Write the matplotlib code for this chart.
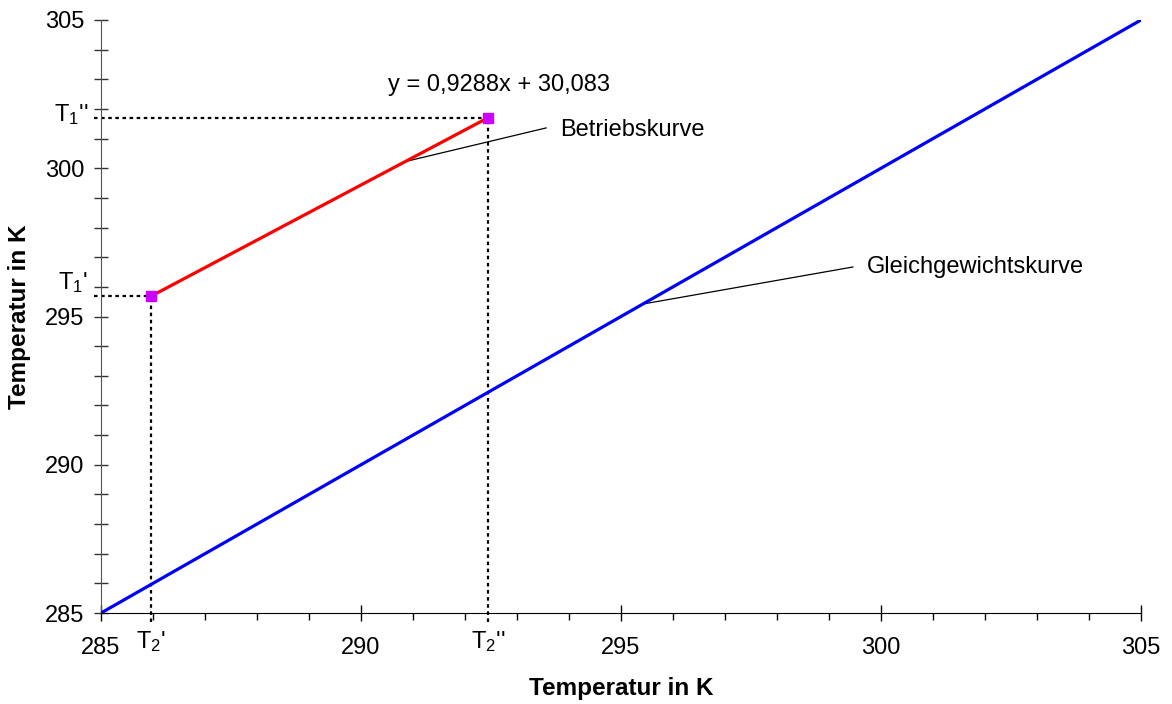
import matplotlib
matplotlib.use("Agg")
import matplotlib.pyplot as plt
import numpy as np
from matplotlib.ticker import MultipleLocator

plt.rcParams['font.family'] = ['Liberation Sans', 'DejaVu Sans']
plt.rcParams['mathtext.fontset'] = 'custom'
plt.rcParams['mathtext.rm'] = 'Liberation Sans'
plt.rcParams['mathtext.it'] = 'Liberation Sans'
plt.rcParams['mathtext.default'] = 'regular'

# Data
eq_x = [285, 305]
eq_y = [285, 305]
slope = 0.9288
intercept = 30.083
op_x = [285.96, 292.45]
op_y = [slope * x + intercept for x in op_x]
x_ticks = [285, 290, 295, 300, 305]
y_ticks = [285, 290, 295, 300, 305]
eq_label = "y = 0,9288x + 30,083"

FS = 17

fig = plt.figure(figsize=(11.72, 7.04), dpi=100)
ax = fig.add_axes([101/1172, 1-613/704, 1040/1172, 593/704])
ax.set_xlim(285, 305)
ax.set_ylim(285, 305)

ax.plot(eq_x, eq_y, color='#0000ff', lw=2.3, solid_capstyle='butt', zorder=3)
ax.plot(op_x, op_y, color='#ff0000', lw=2.3, zorder=3)
ax.plot(op_x, op_y, ls='none', marker='s', ms=7, color='#cc00ff', zorder=4)

# dotted guides
for xv, yv in zip(op_x, op_y):
    ax.plot([284.87, xv], [yv, yv], color='black', ls=(0, (1.6, 1.6)), lw=1.6, clip_on=False, zorder=2)
    ax.plot([xv, xv], [284.7, yv], color='black', ls=(0, (1.6, 1.6)), lw=1.6, clip_on=False, zorder=2)

for s in ['top', 'right']:
    ax.spines[s].set_visible(False)
ax.spines['left'].set_color('#555555')
ax.spines['bottom'].set_color('black')

ax.set_xticks(x_ticks)
ax.set_yticks(y_ticks)
ax.xaxis.set_minor_locator(MultipleLocator(1))
ax.yaxis.set_minor_locator(MultipleLocator(1))
ax.tick_params(axis='x', which='major', direction='inout', length=11, width=1, labelsize=FS, pad=12)
ax.tick_params(axis='x', which='minor', direction='out', length=5, width=1)
ax.tick_params(axis='y', which='major', direction='inout', length=10, width=1, labelsize=FS, pad=7, color='#333333')
ax.tick_params(axis='y', which='minor', direction='inout', length=10, width=1, color='#333333')

ax.set_xlabel('Temperatur in K', fontsize=17.5, fontweight='bold', va='center')
ax.xaxis.set_label_coords(0.5, -(688 - 613) / 593, transform=ax.transAxes)
ax.set_ylabel('Temperatur in K', fontsize=17.5, fontweight='bold', va='center')
ax.yaxis.set_label_coords(-(101 - 20) / 1040, 0.5, transform=ax.transAxes)

# T labels
ax.text(op_x[0], 284.45, "T$_2$'", ha='center', va='top', fontsize=FS, clip_on=False)
ax.text(op_x[1], 284.45, "T$_2$''", ha='center', va='top', fontsize=FS, clip_on=False)
ax.text(284.75, op_y[0] + 0.45, "T$_1$'", ha='right', va='center', fontsize=FS, clip_on=False)
ax.text(284.75, op_y[1] + 0.1, "T$_1$''", ha='right', va='center', fontsize=FS, clip_on=False)

ax.text(290.52, 302.81, eq_label, ha='left', va='center', fontsize=FS)

# leader lines + labels
ax.plot([290.85, 293.56], [slope * 290.85 + intercept, 301.36], color='black', lw=0.9, zorder=2)
ax.text(293.83, 301.29, 'Betriebskurve', ha='left', va='center', fontsize=FS)
ax.plot([295.42, 299.46], [295.42, 296.67], color='black', lw=0.9, zorder=2)
ax.text(299.73, 296.67, 'Gleichgewichtskurve', ha='left', va='center', fontsize=FS)

fig.savefig('out.png', dpi=100)
